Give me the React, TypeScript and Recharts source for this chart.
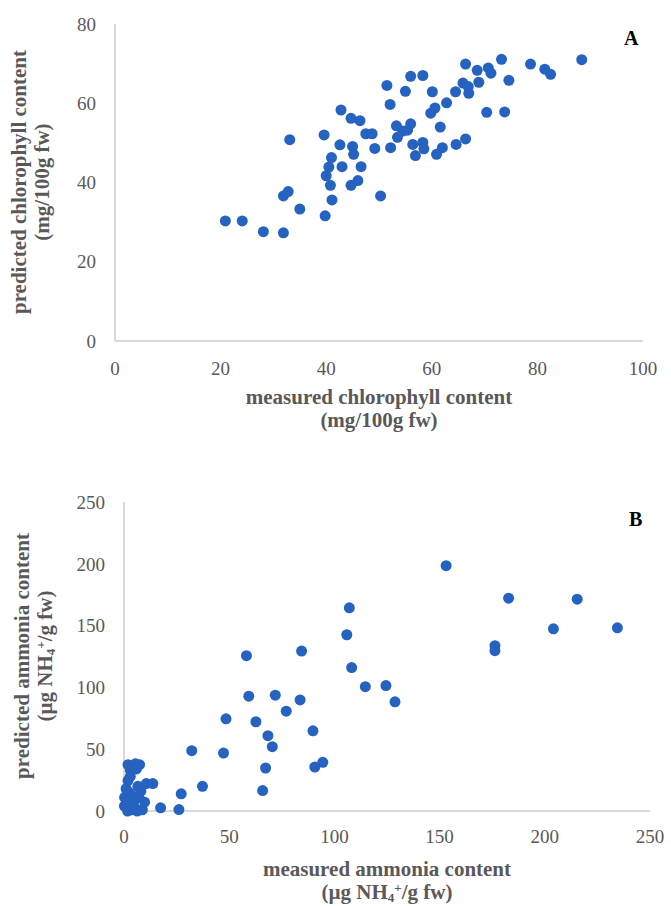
import { ScatterChart, Scatter, XAxis, YAxis } from 'recharts';

// panel A: chlorophyll (mg/100g fw)
const chlMeasured = [
  20.9, 24.1, 28.1, 31.9, 33.1, 31.9, 32.8, 35.0, 39.8, 39.6, 41.1, 40.8, 40.0, 40.5, 41.0, 43.0,
  42.6, 42.8, 44.7, 46.4, 45.0, 45.2, 46.6, 46.0, 44.7, 47.5, 48.7, 49.2, 50.3, 51.5, 52.1, 52.2,
  53.3, 53.5, 55.0, 56.0, 58.3, 60.1, 66.4, 68.6, 70.7, 71.2, 73.2, 78.7, 81.4, 82.5, 88.4, 74.6,
  68.9, 65.9, 66.9, 67.0, 64.5, 62.8, 60.6, 59.8, 70.4, 73.8, 61.6, 54.5, 56.0, 55.4, 56.4, 58.3,
  58.5, 56.9, 60.9, 62.0, 64.6, 66.4,
];
const chlPredicted = [
  30.3, 30.3, 27.6, 27.3, 50.8, 36.6, 37.7, 33.3, 31.6, 52.0, 35.6, 39.3, 41.7, 43.9, 46.3, 44.0,
  49.5, 58.3, 56.2, 55.6, 49.1, 47.1, 44.0, 40.5, 39.3, 52.3, 52.3, 48.6, 36.6, 64.5, 59.7, 48.8,
  54.3, 51.4, 63.0, 66.8, 67.0, 62.9, 69.9, 68.3, 68.9, 67.6, 71.1, 69.9, 68.6, 67.3, 71.0, 65.8,
  65.3, 65.1, 64.2, 62.5, 62.9, 60.1, 58.8, 57.5, 57.7, 57.8, 54.0, 53.0, 54.8, 53.2, 49.6, 50.1,
  48.5, 46.8, 47.1, 48.8, 49.6, 51.0,
];
const chlTicksX = [0, 20, 40, 60, 80, 100];
const chlTicksY = [0, 20, 40, 60, 80];

// panel B: ammonia (µg NH4+/g fw)
const nh4Measured = [
  58.2, 84.4, 59.3, 71.9, 83.7, 77.1, 48.5, 62.7, 68.4, 70.5, 32.2, 47.3, 67.3, 65.9, 37.3, 27.2,
  17.4, 26.1, 153.1, 182.8, 215.4, 204.1, 234.5, 176.3, 176.3, 107.1, 105.9, 108.2, 114.7, 124.5,
  128.8, 89.8, 90.7, 94.5, 1.9, 5.5, 7.4, 3.0, 5.9, 1.9, 6.6, 10.6, 13.7, 0.3, 2.7, 5.1, 9.8, 0.2,
  3.6, 6.3, 1.7, 8.7, 4.0, 7.0, 2.0, 5.0, 1.0, 3.0, 8.0,
];
const nh4Predicted = [
  125.7, 129.4, 92.9, 93.7, 89.9, 80.8, 74.6, 72.2, 60.9, 52.0, 48.8, 46.9, 34.8, 16.5, 20.0, 13.9,
  2.6, 1.2, 198.5, 172.2, 171.4, 147.4, 148.2, 133.7, 129.7, 164.4, 142.6, 116.0, 100.6, 101.5,
  88.3, 64.9, 35.6, 39.4, 37.5, 38.3, 37.5, 32.9, 34.0, 24.6, 20.0, 22.2, 22.2, 11.0, 14.7, 9.3,
  7.1, 4.0, 1.0, 0.0, 0.0, 1.0, 6.0, 12.0, 8.0, 3.0, 18.0, 28.0, 16.0,
];
const nh4TicksX = [0, 50, 100, 150, 200, 250];
const nh4TicksY = [0, 50, 100, 150, 200, 250];

const chlData = chlMeasured.map((x, i) => ({ x, y: chlPredicted[i] }));
const nh4Data = nh4Measured.map((x, i) => ({ x, y: nh4Predicted[i] }));

const DOT = '#2662bf';
const GRAY = '#595959';
const AXIS = '#d9d9d9';
const SERIF = '"Liberation Serif", "Times New Roman", serif';
const tickStyle = { fontSize: 19, fill: GRAY, fontFamily: SERIF };

const Dot = (p: any) => <circle cx={p.cx} cy={p.cy} r={5.5} fill={DOT} />;

const title: React.CSSProperties = {
  position: 'absolute', fontFamily: SERIF, fontWeight: 700, fontSize: 21, color: GRAY,
  whiteSpace: 'nowrap', textAlign: 'center', lineHeight: '23px',
};
const sub: React.CSSProperties = { fontSize: 13, lineHeight: 0, position: 'relative', top: 3, verticalAlign: 'baseline' };
const sup: React.CSSProperties = { fontSize: 13, lineHeight: 0, position: 'relative', top: -7, verticalAlign: 'baseline' };

const Unit = () => (
  <span>(µg NH<span style={sub}>4</span><span style={sup}>+</span>/g fw)</span>
);

export default function App() {
  return (
    <div style={{ position: 'absolute', left: 0, top: 0, width: 671, height: 906, background: '#fff', overflow: 'hidden' }}>
      <div style={{ position: 'absolute', left: 0, top: 0 }}>
        <ScatterChart width={671} height={440} margin={{ top: 24, right: 28, bottom: 0, left: 0 }}>
          <XAxis type="number" dataKey="x" domain={[0, 100]} ticks={chlTicksX} tickLine={false}
            axisLine={{ stroke: AXIS, strokeWidth: 2 }} tick={tickStyle} tickMargin={15} height={99} />
          <YAxis type="number" dataKey="y" domain={[0, 80]} ticks={chlTicksY} tickLine={false}
            axisLine={{ stroke: AXIS, strokeWidth: 2 }} tick={tickStyle} tickMargin={13} width={115} />
          <Scatter data={chlData} shape={Dot} isAnimationActive={false} />
        </ScatterChart>
      </div>
      <div style={{ position: 'absolute', left: 0, top: 460 }}>
        <ScatterChart width={671} height={446} margin={{ top: 42, right: 21, bottom: 0, left: 0 }}>
          <XAxis type="number" dataKey="x" domain={[0, 250]} ticks={nh4TicksX} tickLine={false}
            axisLine={{ stroke: AXIS, strokeWidth: 2 }} tick={tickStyle} tickMargin={13} height={95} />
          <YAxis type="number" dataKey="y" domain={[0, 250]} ticks={nh4TicksY} tickLine={false}
            axisLine={{ stroke: AXIS, strokeWidth: 2 }} tick={tickStyle} tickMargin={13} width={124} />
          <Scatter data={nh4Data} shape={Dot} isAnimationActive={false} />
        </ScatterChart>
      </div>

      {/* panel letters */}
      <div style={{ ...title, fontSize: 20, color: '#000', left: 624, top: 27 }}>A</div>
      <div style={{ ...title, fontSize: 20, color: '#000', left: 629, top: 508 }}>B</div>

      {/* axis titles A */}
      <div style={{ ...title, left: 379, top: 386, transform: 'translateX(-50%)' }}>
        measured chlorophyll content<br />(mg/100g fw)
      </div>
      <div style={{ ...title, left: 31, top: 182, transform: 'translate(-50%, -50%) rotate(-90deg)' }}>
        predicted chlorophyll content<br />(mg/100g fw)
      </div>

      {/* axis titles B */}
      <div style={{ ...title, left: 387, top: 858, transform: 'translateX(-50%)' }}>
        measured ammonia content<br /><Unit />
      </div>
      <div style={{ ...title, left: 34, top: 656, transform: 'translate(-50%, -50%) rotate(-90deg)' }}>
        predicted ammonia content<br /><Unit />
      </div>
    </div>
  );
}
